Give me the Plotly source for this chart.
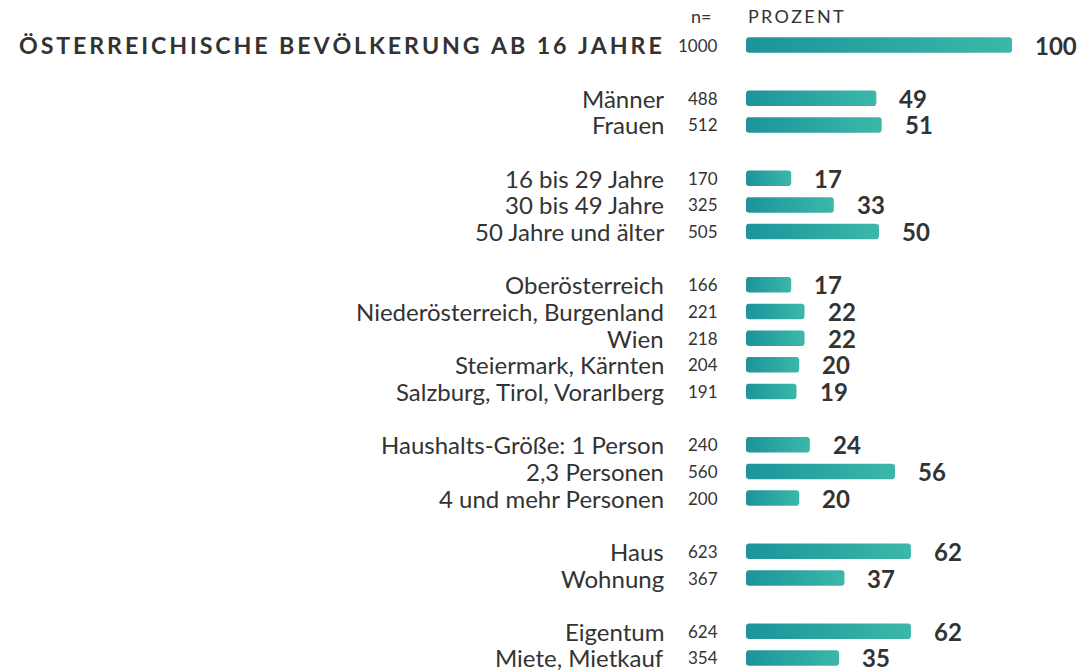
import math
import plotly.graph_objects as go

# ---- data ----
title_label = "ÖSTERREICHISCHE BEVÖLKERUNG AB 16 JAHRE"
categories = [
    "Männer", "Frauen",
    "16 bis 29 Jahre", "30 bis 49 Jahre", "50 Jahre und älter",
    "Oberösterreich", "Niederösterreich, Burgenland", "Wien",
    "Steiermark, Kärnten", "Salzburg, Tirol, Vorarlberg",
    "Haushalts-Größe: 1 Person", "2,3 Personen", "4 und mehr Personen",
    "Haus", "Wohnung",
    "Eigentum", "Miete, Mietkauf",
]
groups = [1, 1, 2, 2, 2, 3, 3, 3, 3, 3, 4, 4, 4, 5, 5, 6, 6]
n_values = [488, 512, 170, 325, 505, 166, 221, 218, 204, 191, 240, 560, 200, 623, 367, 624, 354]
percent = [49, 51, 17, 33, 50, 17, 22, 22, 20, 19, 24, 56, 20, 62, 37, 62, 35]
total_n = 1000
total_pct = 100

# ---- layout helpers ----
W, H = 1079, 670
PX_PER_UNIT = 2.66
X0_PX = 746
ROW_PX = 26.65
ROW0_PX = 45
FONT = "Lato, 'Open Sans', sans-serif"
TXT = "#333333"


def spaced(s, sep="\u2009"):
    return sep.join(list(s))


def px_to_x(p):
    return (p - X0_PX) / PX_PER_UNIT


def rounded_rect(x0, x1, y0, y1, r_px=2.5, steps=5):
    rx = r_px / PX_PER_UNIT
    ry = r_px / ROW_PX
    xs, ys = [], []
    corners = [
        (x1 - rx, y0 + ry, -90, 0),
        (x1 - rx, y1 - ry, 0, 90),
        (x0 + rx, y1 - ry, 90, 180),
        (x0 + rx, y0 + ry, 180, 270),
    ]
    for cx, cy, a0, a1 in corners:
        for k in range(steps + 1):
            a = math.radians(a0 + (a1 - a0) * k / steps)
            xs.append(cx + rx * math.cos(a))
            ys.append(cy + ry * math.sin(a))
    xs.append(xs[0])
    ys.append(ys[0])
    return xs, ys


# row positions: title at 0, group gap of one row
rows_label = [title_label] + categories
rows_n = [total_n] + n_values
rows_pct = [total_pct] + percent
rows_y = [0]
prev_g = 0
y = 0
for g in groups:
    y += 2 if g != prev_g else 1
    rows_y.append(y)
    prev_g = g

fig = go.Figure()
BAR_H = 0.29
for i, (yy, v) in enumerate(zip(rows_y, rows_pct)):
    bx, by = rounded_rect(0, v, yy - BAR_H, yy + BAR_H)
    fig.add_trace(go.Scatter(
        x=bx, y=by,
        mode="lines", line=dict(width=0), fill="toself",
        fillgradient=dict(type="horizontal",
                          colorscale=[[0, "#1d939b"], [1, "#3bb8a8"]]),
        hoverinfo="skip", showlegend=False,
    ))

ann = []
label_x = px_to_x(666)
n_x = px_to_x(720)
for i, (yy, lab, n, v) in enumerate(zip(rows_y, rows_label, rows_n, rows_pct)):
    if i == 0:
        ann.append(dict(x=px_to_x(664), y=yy, text="<b>" + spaced(lab) + "</b>",
                        xanchor="right", yanchor="middle", showarrow=False,
                        font=dict(family=FONT, size=23.2, color=TXT)))
    else:
        ann.append(dict(x=label_x, y=yy, text=lab, xanchor="right", yanchor="middle",
                        showarrow=False, font=dict(family=FONT, size=24, color=TXT)))
    ann.append(dict(x=n_x, y=yy, text=str(n), xanchor="right", yanchor="middle",
                    showarrow=False, font=dict(family=FONT, size=17, color=TXT)))
    ann.append(dict(x=v, y=yy, text="<b>" + str(v) + "</b>", xanchor="left", yanchor="middle",
                    xshift=21, showarrow=False, font=dict(family=FONT, size=24, color=TXT)))

head_y = -(45 - 16) / ROW_PX
ann.append(dict(x=px_to_x(713), y=head_y, text="n=", xanchor="right", yanchor="middle",
                showarrow=False, font=dict(family=FONT, size=18, color=TXT)))
ann.append(dict(x=0, y=head_y, text=spaced("PROZENT"), xanchor="left", yanchor="middle",
                showarrow=False, font=dict(family=FONT, size=18, color=TXT)))

x_min = -X0_PX / PX_PER_UNIT
x_max = (W - X0_PX) / PX_PER_UNIT
y_top = -ROW0_PX / ROW_PX
y_bot = rows_y[-1] + (H - (ROW0_PX + rows_y[-1] * ROW_PX)) / ROW_PX

fig.update_layout(
    width=W, height=H,
    margin=dict(l=0, r=0, t=0, b=0),
    paper_bgcolor="white", plot_bgcolor="white",
    xaxis=dict(range=[x_min, x_max], visible=False, fixedrange=True),
    yaxis=dict(range=[y_bot, y_top], visible=False, fixedrange=True),
    annotations=ann,
    showlegend=False,
)

fig.write_html(
    "out.html",
    config={"displayModeBar": False},
    post_script="document.body.style.margin='0';document.body.style.overflow='hidden';",
)
